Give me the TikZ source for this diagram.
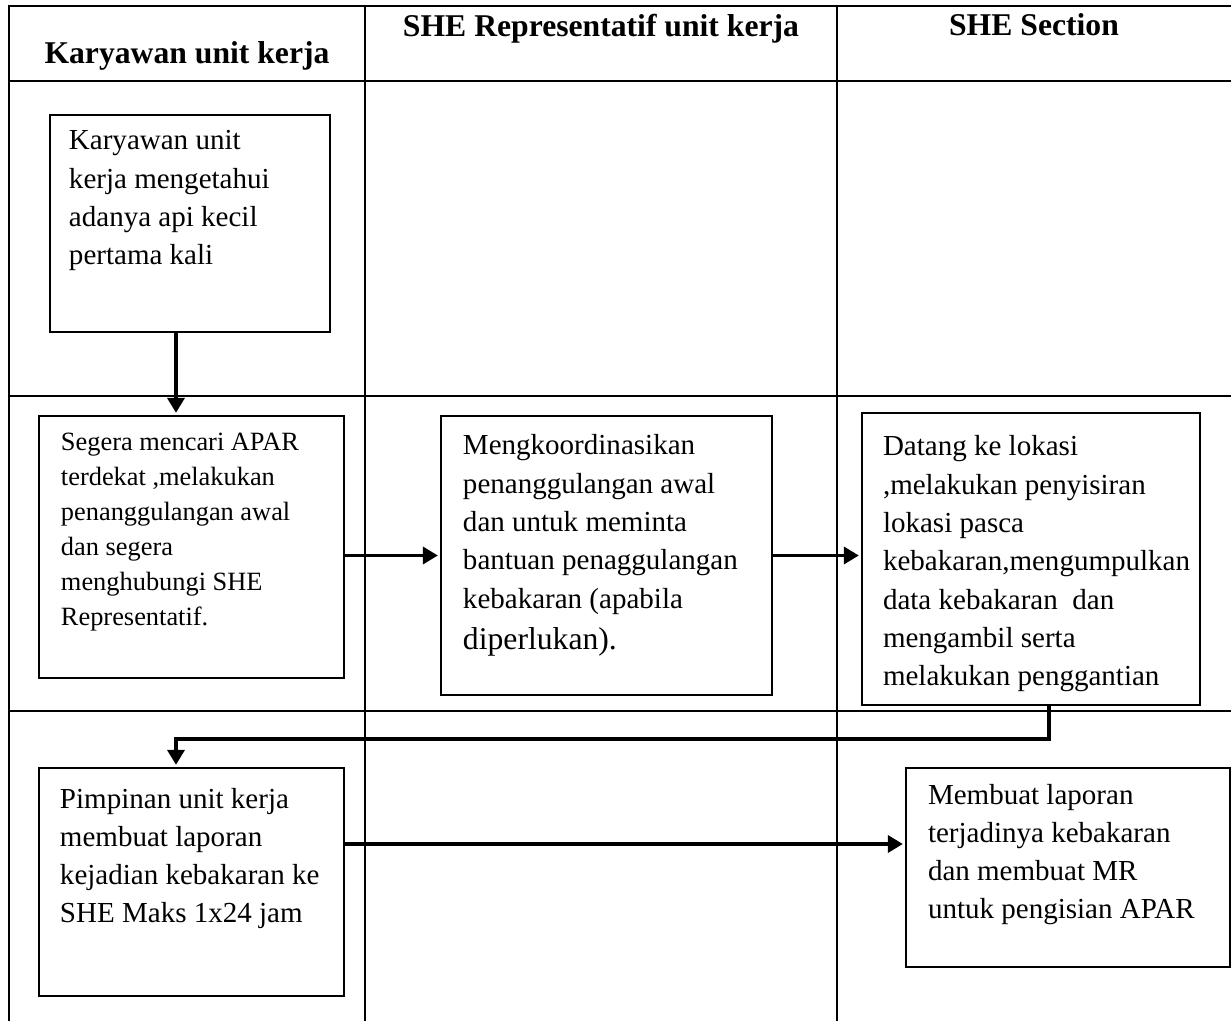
\documentclass[tikz,border=0pt]{standalone}
\usepackage{fontspec}
\setmainfont{Liberation Serif}
\usepackage{tikz}
\usetikzlibrary{arrows.meta, positioning, calc}
\newlength{\px}
\setlength{\px}{0.379pt}
% #1 box width, #2 box height, #3 indent, #4 first baseline, #5 lines
\newcommand{\steptext}[5]{\parbox[t][#2\px][t]{#1\px}{\leftskip=#3\px\rule{0pt}{#4\px}#5}}
\tikzset{
  lane/.style={line width=0.9pt},
  head/.style={anchor=base, inner sep=0pt, font=\fontsize{12}{14}\selectfont\bfseries},
  stepbox/.style={draw, line width=0.75pt, inner sep=0pt, anchor=north west,
    font=\fontsize{11}{14.5}\selectfont},
  smallbox/.style={stepbox, font=\fontsize{10}{13.2}\selectfont},
  ar/.style={-{Triangle[length=5.7pt, width=6.4pt]}, line width=1.5pt, shorten >=0.8pt},
}

\begin{document}
\begin{tikzpicture}[x=0.379pt, y=-0.379pt]
  \useasboundingbox (0,0) rectangle (1231,1021);

  % swimlanes
  \draw[lane] (9,1021) -- (9,6) -- (1231,6);
  \draw[lane] (9,81) -- (1231,81);
  \draw[lane] (9,396) -- (1231,396);
  \draw[lane] (9,711) -- (1231,711);
  \draw[lane] (365,6) -- (365,1021);
  \draw[lane] (837,6) -- (837,1021);

  \node[head] (hkar) at (187,64) {Karyawan unit kerja};
  \node[head] (hrep) at (601,37) {SHE Representatif unit kerja};
  \node[head] (hsec) at (1034,36) {SHE Section};

  % steps
  \node[stepbox] (tahu) at (49,114)
    {\steptext{280}{217}{19}{35}{Karyawan unit\\kerja mengetahui\\adanya api kecil\\pertama kali}};
  \node[smallbox] (apar) at (38,415)
    {\steptext{305}{262}{22}{35}{Segera mencari APAR\\terdekat ,melakukan\\penanggulangan awal\\dan segera\\menghubungi SHE\\Representatif.}};
  \node[stepbox] (koord) at (440,415)
    {\steptext{331}{279}{22}{39}{Mengkoordinasikan\\penanggulangan awal\\dan untuk meminta\\bantuan penaggulangan\\kebakaran (apabila\\[1.4pt]{\fontsize{12}{14.5}\selectfont diperlukan).}}};
  \node[stepbox] (lokasi) at (861,412)
    {\steptext{338}{292}{21}{43}{Datang ke lokasi\\,melakukan penyisiran\\lokasi pasca\\kebakaran,mengumpulkan\\data kebakaran~ dan\\mengambil serta\\melakukan penggantian}};
  \node[stepbox] (pimpin) at (38,767)
    {\steptext{305}{228}{21}{40}{Pimpinan unit kerja\\membuat laporan\\kejadian kebakaran ke\\SHE Maks 1x24 jam}};
  \node[stepbox] (lapor) at (905,767)
    {\steptext{324}{199}{22}{36}{Membuat laporan\\terjadinya kebakaran\\dan membuat MR\\untuk pengisian APAR}};

  % flow
  \draw[ar] ($(tahu.south)+(-14,0)$) -- ($(apar.north)+(-15.5,0)$);
  \draw[ar] (apar.east |- koord.west) -- (koord.west);
  \draw[ar] (koord.east) -- (koord.east -| lokasi.west);
  \draw[ar] ($(lokasi.south)+(18,0)$) -- ++(0,33) -| ($(pimpin.north)+(-15.5,0)$);
  \draw[ar] ($(pimpin.east)+(0,-38)$) -- ($(lapor.west)+(0,-23.5)$);
\end{tikzpicture}
\end{document}
